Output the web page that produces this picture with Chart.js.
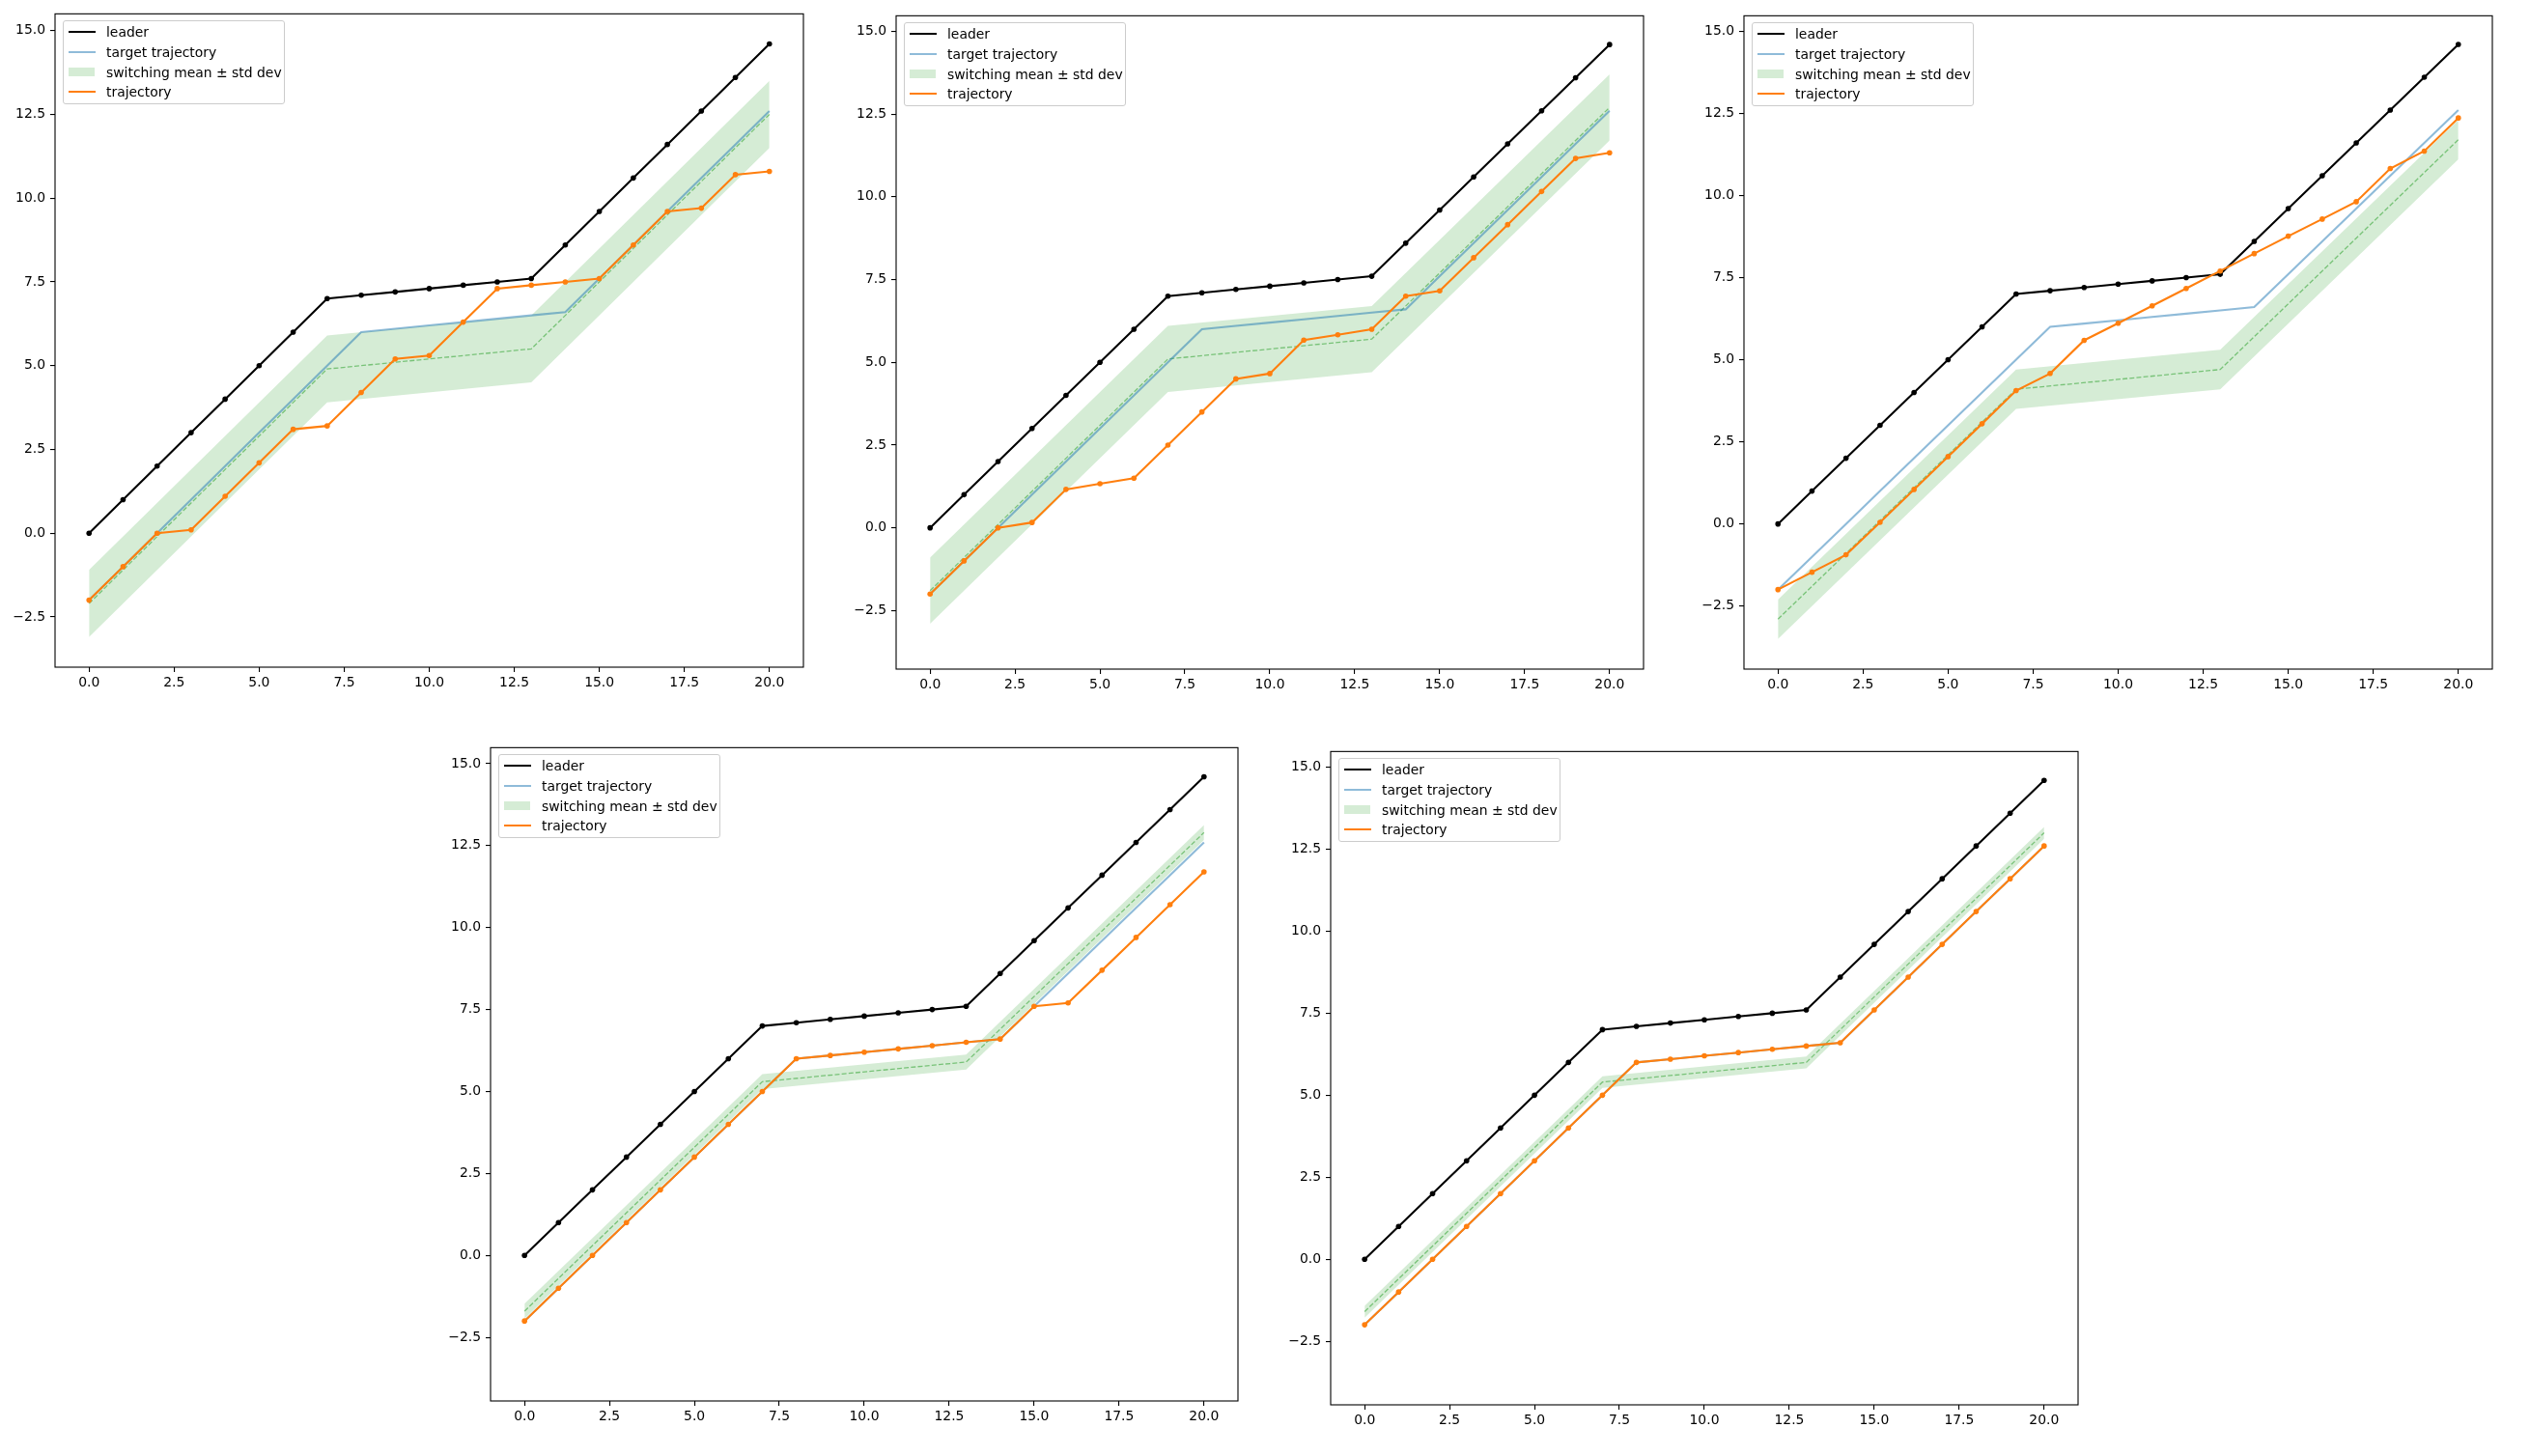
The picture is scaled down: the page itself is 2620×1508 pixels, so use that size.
<!DOCTYPE html>
<html>
<head>
<meta charset="utf-8">
<script src="https://cdn.jsdelivr.net/npm/chart.js@4.4.1/dist/chart.umd.min.js"></script>
<style>
  body { margin: 0; background: #fff; width: 2620px; height: 1508px; position: relative; overflow: hidden; font-family: "DejaVu Sans", sans-serif; }
  .panel { position: absolute; }
  .legend { position: absolute; box-sizing: border-box; width: 230px; height: 87px; padding: 1px 0 3px 5px;
            border: 1px solid #cccccc; border-radius: 3px; background: rgba(255,255,255,0.8); font-size: 13.9px; color: #000; }
  .row { height: 20.7px; display: flex; align-items: center; white-space: nowrap; }
  .handle { width: 28px; margin-right: 11px; display: flex; align-items: center; }
</style>
</head>
<body>
<script>
// time steps
const steps = [0, 1, 2, 3, 4, 5, 6, 7, 8, 9, 10, 11, 12, 13, 14, 15, 16, 17, 18, 19, 20];
const leader = [0, 1, 2, 3, 4, 5, 6, 7, 7.1, 7.2, 7.3, 7.4, 7.5, 7.6, 8.6, 9.6, 10.6, 11.6, 12.6, 13.6, 14.6];
const target = [-2, -1, 0, 1, 2, 3, 4, 5, 6, 6.1, 6.2, 6.3, 6.4, 6.5, 6.6, 7.6, 8.6, 9.6, 10.6, 11.6, 12.6];

// trajectories, one per panel
const traj1 = [-2, -1, 0, 0.1, 1.1, 2.1, 3.1, 3.2, 4.2, 5.2, 5.3, 6.3, 7.3, 7.4, 7.5, 7.6, 8.6, 9.6, 9.7, 10.7, 10.8];
const traj2 = [-2, -1, 0, 0.16, 1.16, 1.33, 1.5, 2.5, 3.5, 4.5, 4.66, 5.67, 5.83, 6.0, 7.0, 7.16, 8.16, 9.16, 10.16, 11.16, 11.33];
const traj3 = [-2, -1.47, -0.94, 0.05, 1.05, 2.05, 3.05, 4.06, 4.58, 5.59, 6.11, 6.64, 7.17, 7.7, 8.23, 8.76, 9.28, 9.81, 10.82, 11.35, 12.36];
const traj4 = [-2, -1, 0, 1, 2, 3, 4, 5, 6, 6.1, 6.2, 6.3, 6.4, 6.5, 6.6, 7.6, 7.7, 8.7, 9.7, 10.7, 11.7];
const traj5 = [-2, -1, 0, 1, 2, 3, 4, 5, 6, 6.1, 6.2, 6.3, 6.4, 6.5, 6.6, 7.6, 8.6, 9.6, 10.6, 11.6, 12.6];

// switching mean and std dev at its corner steps
const bandSteps = [0, 7, 13, 20];
const mean1 = [-2.1, 4.9, 5.5, 12.5];
const std1 = [1.0, 1.0, 1.0, 1.0];
const mean2 = [-1.9, 5.1, 5.7, 12.7];
const std2 = [1.0, 1.0, 1.0, 1.0];
const mean3 = [-2.9, 4.1, 4.7, 11.7];
const std3 = [0.6, 0.6, 0.6, 0.6];
const mean4 = [-1.7, 5.3, 5.9, 12.9];
const std4 = [0.23, 0.23, 0.23, 0.23];
const mean5 = [-1.6, 5.4, 6.0, 13.0];
const std5 = [0.18, 0.18, 0.18, 0.18];

const xTicks = [0, 2.5, 5, 7.5, 10, 12.5, 15, 17.5, 20];
const yTicks = [-2.5, 0, 2.5, 5, 7.5, 10, 12.5, 15];
const yMin = [-4.0, -4.27, -4.42, -4.44, -4.44];
const yMax = [15.5, 15.47, 15.47, 15.49, 15.48];

const panels = [
  { traj: traj1, mean: mean1, std: std1 },
  { traj: traj2, mean: mean2, std: std2 },
  { traj: traj3, mean: mean3, std: std3 },
  { traj: traj4, mean: mean4, std: std4 },
  { traj: traj5, mean: mean5, std: std5 }
];

// axes boxes in page pixels: left, top, right, bottom
const boxes = [
  [57, 13, 832, 691],
  [928, 15, 1702, 693],
  [1806, 15, 2581, 693],
  [508, 773, 1282, 1451],
  [1378, 777, 2152, 1455]
];

const AXIS_W = 56, PAD_T = 12, PAD_R = 14, AXIS_H = 40;

Chart.defaults.font.family = '"DejaVu Sans", sans-serif';
Chart.defaults.font.size = 13.9;
Chart.defaults.color = '#000';

const frame = {
  id: 'frame',
  afterDatasetsDraw(chart) {
    const { ctx, chartArea: a } = chart;
    ctx.save();
    ctx.strokeStyle = '#000';
    ctx.lineWidth = 1.1;
    ctx.strokeRect(a.left, a.top, a.right - a.left, a.bottom - a.top);
    ctx.restore();
  }
};

function pts(xs, ys) {
  return xs.map((x, i) => ({ x: x, y: ys[i] }));
}

function fmt(v) {
  return v < 0 ? '\u2212' + Math.abs(v).toFixed(1) : v.toFixed(1);
}

const legendItems = [
  { label: 'leader', kind: 'line', color: '#000000' },
  { label: 'target trajectory', kind: 'line', color: '#8fbbd9' },
  { label: 'switching mean \u00b1 std dev', kind: 'patch', color: '#d5ecd5' },
  { label: 'trajectory', kind: 'line', color: '#ff7f0e' }
];

function makeLegend(b) {
  const lg = document.createElement('div');
  lg.className = 'legend';
  lg.style.left = (b[0] + 8) + 'px';
  lg.style.top = (b[1] + 8) + 'px';
  legendItems.forEach(it => {
    const row = document.createElement('div');
    row.className = 'row';
    const h = document.createElement('div');
    h.className = 'handle';
    const m = document.createElement('div');
    m.style.width = it.kind === 'patch' ? '27px' : '28px';
    m.style.height = it.kind === 'patch' ? '9.5px' : '2.1px';
    m.style.background = it.color;
    h.appendChild(m);
    const t = document.createElement('span');
    t.textContent = it.label;
    row.appendChild(h);
    row.appendChild(t);
    lg.appendChild(row);
  });
  document.body.appendChild(lg);
}

function makePanel(i) {
  const b = boxes[i];
  const p = panels[i];
  const div = document.createElement('div');
  div.className = 'panel';
  div.style.left = (b[0] - AXIS_W) + 'px';
  div.style.top = (b[1] - PAD_T) + 'px';
  div.style.width = (b[2] - b[0] + AXIS_W + PAD_R) + 'px';
  div.style.height = (b[3] - b[1] + PAD_T + AXIS_H) + 'px';
  const canvas = document.createElement('canvas');
  div.appendChild(canvas);
  document.body.appendChild(div);

  const low = p.mean.map((m, k) => m - p.std[k]);
  const high = p.mean.map((m, k) => m + p.std[k]);

  new Chart(canvas, {
    type: 'line',
    data: {
      datasets: [
        { label: 'trajectory', data: pts(steps, p.traj), borderColor: '#ff7f0e', backgroundColor: '#ff7f0e',
          borderWidth: 2.1, pointRadius: 2.8, pointBorderWidth: 0, fill: false, order: 0 },
        { label: 'leader', data: pts(steps, leader), borderColor: '#000', backgroundColor: '#000',
          borderWidth: 2.1, pointRadius: 2.8, pointBorderWidth: 0, fill: false, order: 1 },
        { label: 'target trajectory', data: pts(steps, target), borderColor: 'rgba(31,119,180,0.5)',
          borderWidth: 2.1, pointRadius: 0, fill: false, order: 2 },
        { label: 'switching mean', data: pts(bandSteps, p.mean), borderColor: 'rgba(44,160,44,0.55)',
          borderWidth: 1.3, borderDash: [5, 2.2], pointRadius: 0, fill: false, order: 3 },
        { label: 'std low', data: pts(bandSteps, low), borderColor: 'rgba(0,0,0,0)', borderWidth: 1,
          pointRadius: 0, fill: false, order: 5 },
        { label: 'std high', data: pts(bandSteps, high), borderColor: 'rgba(0,0,0,0)', borderWidth: 1,
          pointRadius: 0, fill: 4, backgroundColor: 'rgba(44,160,44,0.2)', order: 4 }
      ]
    },
    options: {
      responsive: true,
      maintainAspectRatio: false,
      animation: false,
      layout: { padding: { top: PAD_T, right: PAD_R, left: 0, bottom: 0 } },
      plugins: { legend: { display: false }, tooltip: { enabled: false } },
      scales: {
        x: {
          type: 'linear', min: -1, max: 21,
          afterBuildTicks: s => { s.ticks = xTicks.map(v => ({ value: v })); },
          afterFit: s => { s.height = AXIS_H; },
          ticks: { callback: v => fmt(v), padding: 3, maxRotation: 0, autoSkip: false },
          grid: { drawOnChartArea: false, drawTicks: true, tickLength: 5, color: '#000', lineWidth: 1.1 },
          border: { display: false }
        },
        y: {
          type: 'linear', min: yMin[i], max: yMax[i],
          afterBuildTicks: s => { s.ticks = yTicks.map(v => ({ value: v })); },
          afterFit: s => { s.width = AXIS_W; },
          ticks: { callback: v => fmt(v), padding: 5, autoSkip: false },
          grid: { drawOnChartArea: false, drawTicks: true, tickLength: 5, color: '#000', lineWidth: 1.1 },
          border: { display: false }
        }
      }
    },
    plugins: [frame]
  });
  makeLegend(b);
}

for (let i = 0; i < panels.length; i++) makePanel(i);
</script>
</body>
</html>
